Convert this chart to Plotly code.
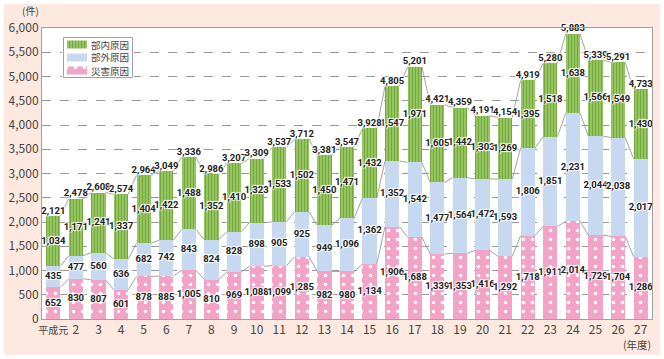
import plotly.graph_objects as go

years = ["平成元"] + [str(i) for i in range(2, 28)]
disaster = [652, 830, 807, 601, 878, 885, 1005, 810, 969, 1088, 1099, 1285, 982, 980, 1134,
            1906, 1688, 1339, 1353, 1416, 1292, 1718, 1911, 2014, 1729, 1704, 1286]
external = [435, 477, 560, 636, 682, 742, 843, 824, 828, 898, 905, 925, 949, 1096, 1362,
            1352, 1542, 1477, 1564, 1472, 1593, 1806, 1851, 2231, 2044, 2038, 2017]
internal = [1034, 1171, 1241, 1337, 1404, 1422, 1488, 1352, 1410, 1323, 1533, 1502, 1450, 1471, 1432,
            1547, 1971, 1605, 1442, 1303, 1269, 1395, 1518, 1638, 1566, 1549, 1430]
totals = [2121, 2478, 2608, 2574, 2964, 3049, 3336, 2986, 3207, 3309, 3537, 3712, 3381, 3547, 3928,
          4805, 5201, 4421, 4359, 4191, 4154, 4919, 5280, 5883, 5339, 5291, 4733]
series_names = ["災害原因", "部外原因", "部内原因"]

n = len(years)
xs = list(range(n))
W = 0.63

NUMFONT = "Roboto, Liberation Sans, sans-serif"
halo = "1px 1px 1px white, -1px -1px 1px white, 1px -1px 1px white, -1px 1px 1px white"

PINK_C, BLUE_C, GREEN_C = "#f2a3c6", "#c6d9f0", "#9ccb68"
PINK_P = dict(shape=".", fgcolor="white", bgcolor=PINK_C, size=9, solidity=0.12, fillmode="replace")
GREEN_P = dict(shape="|", fgcolor="#74a83c", bgcolor=GREEN_C, size=3, solidity=0.45, fillmode="replace")
colors = [PINK_C, BLUE_C, GREEN_C]
patterns = [PINK_P, None, GREEN_P]

fig = go.Figure()
for name, vals, c, p in zip(series_names, (disaster, external, internal), colors, patterns):
    mk = dict(color=c, line=dict(width=0))
    if p:
        mk["pattern"] = p
    fig.add_trace(go.Bar(x=xs, y=vals, width=W, name=name, marker=mk, showlegend=False))

# connector lines between bars
c1 = disaster
c2 = [a + b for a, b in zip(disaster, external)]
c3 = totals
for lev in (c1, c2, c3):
    lx, ly = [], []
    for i in range(n - 1):
        lx += [xs[i] + W / 2, xs[i + 1] - W / 2, None]
        ly += [lev[i], lev[i + 1], None]
    fig.add_trace(go.Scatter(x=lx, y=ly, mode="lines", line=dict(color="#8c8c8c", width=0.8),
                             showlegend=False, hoverinfo="skip"))

def fmt(v):
    return f"{v:,}"

mid1 = [d / 2 for d in disaster]
mid2 = [d + e / 2 for d, e in zip(disaster, external)]
mid3 = [d + e + i / 2 for d, e, i in zip(disaster, external, internal)]
for mids, vals in ((mid1, disaster), (mid2, external), (mid3, internal)):
    fig.add_trace(go.Scatter(
        x=xs, y=mids, mode="text", text=[fmt(v) for v in vals], cliponaxis=False,
        textfont=dict(family=NUMFONT, size=9.5, color="#222", weight="bold", shadow=halo),
        showlegend=False, hoverinfo="skip"))

fig.add_trace(go.Scatter(
    x=xs, y=totals, mode="text", text=[fmt(v) for v in totals], textposition="top center",
    cliponaxis=False,
    textfont=dict(family=NUMFONT, size=9.5, color="#222", weight="bold", shadow=halo),
    showlegend=False, hoverinfo="skip"))

L, R, T, B = 42, 12, 28, 40
PW, PH = 664 - L - R, 359 - T - B
YMAX = 6000

def px2p(px):
    return (px - L) / PW

def py2p(py):
    return (359 - B - py) / PH

# ---- custom legend (overlay subplot in pixel units) ----
LX0, LX1, LY0, LY1 = 63, 133, 37, 78

def rect(x0, y0, x1, y1):
    return [x0, x1, x1, x0, x0], [y0, y0, y1, y1, y0]

bx, by = rect(LX0, LY0, LX1, LY1)
fig.add_trace(go.Scatter(x=bx, y=by, mode="lines", fill="toself", fillcolor="white",
                         line=dict(color="white", width=0), xaxis="x2", yaxis="y2",
                         showlegend=False, hoverinfo="skip"))
leg_order = [2, 1, 0]  # top to bottom: 部内, 部外, 災害
for row, k in enumerate(leg_order):
    cy = 44.5 + row * 13
    sx, sy = rect(67, cy - 4, 87, cy + 4)
    kw = dict(fillpattern=patterns[k]) if patterns[k] else {}
    fig.add_trace(go.Scatter(x=sx, y=sy, mode="lines", fill="toself", fillcolor=colors[k],
                             line=dict(width=0, color=colors[k]), xaxis="x2", yaxis="y2",
                             showlegend=False, hoverinfo="skip", **kw))
    fig.add_annotation(text=series_names[k], xref="paper", yref="paper",
                       x=px2p(89), y=py2p(cy), xanchor="left", yanchor="middle",
                       showarrow=False, font=dict(size=9.5, color="#444"))
fig.add_shape(type="rect", xref="paper", yref="paper",
              x0=px2p(LX0 + 0.5), x1=px2p(LX1 - 0.5), y0=py2p(LY1 - 0.5), y1=py2p(LY0 + 0.5),
              line=dict(color="#a0a0a0", width=1), fillcolor="rgba(0,0,0,0)", layer="above")

fig.update_layout(
    width=664, height=359, autosize=False,
    margin=dict(l=L, r=R, t=T, b=B, pad=0, autoexpand=False),
    barmode="stack", bargap=0, showlegend=False,
    paper_bgcolor="#fde9df", plot_bgcolor="white",
    font=dict(family="Noto Sans CJK JP, Noto Sans, sans-serif", size=12, color="#333"),
    xaxis=dict(range=[-0.5, n - 0.5], tickvals=xs,
               ticktext=['<span style="font-size:10px">' + years[0] + '</span>'] + years[1:],
               showgrid=False, tickangle=0, automargin=False,
               showline=True, linecolor="#a0a0a0", linewidth=1, mirror=True, ticks="",
               tickfont=dict(size=12, color="#444"), zeroline=False),
    yaxis=dict(range=[0, YMAX], dtick=500, tickformat=",", showgrid=True, gridcolor="#9a9a9a",
               automargin=False,
               griddash="dash", gridwidth=0.8, showline=True, linecolor="#a0a0a0", linewidth=1,
               mirror=True, ticks="", zeroline=False, tickfont=dict(size=12, color="#444")),
    xaxis2=dict(domain=[px2p(LX0 - 1), px2p(LX1 + 1)], range=[LX0 - 1, LX1 + 1], visible=False,
                anchor="y2", fixedrange=True),
    yaxis2=dict(domain=[py2p(LY1 + 1), py2p(LY0 - 1)], range=[LY1 + 1, LY0 - 1], visible=False,
                anchor="x2", fixedrange=True),
)

fig.add_annotation(text="(件)", xref="paper", yref="paper", x=px2p(30), y=py2p(11),
                   xanchor="center", yanchor="middle",
                   showarrow=False, font=dict(size=10, color="#444"))
fig.add_annotation(text="(年度)", xref="paper", yref="paper", x=px2p(637), y=py2p(344),
                   xanchor="center", yanchor="middle",
                   showarrow=False, font=dict(size=10.5, color="#444"))

# white outer frame
fig.add_shape(type="rect", xref="paper", yref="paper",
              x0=px2p(0), x1=px2p(664), y0=py2p(359), y1=py2p(0),
              line=dict(color="white", width=8), fillcolor="rgba(0,0,0,0)", layer="above")

fig.write_html("out.html", config={"displayModeBar": False},
               post_script="document.body.style.margin='0';document.body.style.overflow='hidden';")
